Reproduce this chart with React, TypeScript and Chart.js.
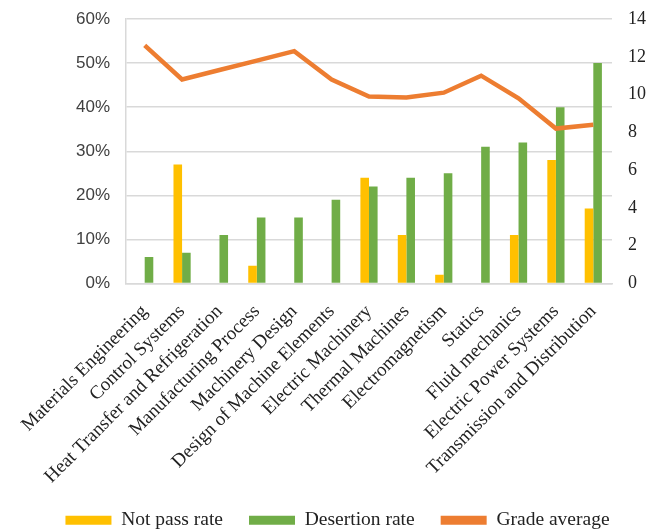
import React, { useEffect, useRef } from "react";
import { Chart, registerables } from "chart.js";

Chart.register(...registerables);

const categories = [
  "Materials Engineering",
  "Control Systems",
  "Heat Transfer and Refrigeration",
  "Manufacturing Process",
  "Machinery Design",
  "Design of Machine Elements",
  "Electric Machinery",
  "Thermal Machines",
  "Electromagnetism",
  "Statics",
  "Fluid mechanics",
  "Electric Power Systems",
  "Transmission and Distribution",
];

const notPassRate = [0, 27, 0, 4, 0, 0, 24, 11, 2, 0, 11, 28, 17];
const desertionRate = [6, 7, 11, 15, 15, 19, 22, 24, 25, 31, 32, 40, 50];
const gradeAverage = [12.6, 10.8, 11.3, 11.8, 12.3, 10.8, 9.9, 9.85, 10.1, 11.0, 9.8, 8.2, 8.4];

const leftTicks = [0, 10, 20, 30, 40, 50, 60];
const rightTicks = [0, 2, 4, 6, 8, 10, 12, 14];

const W = 661;
const H = 531;

const layoutTweak = {
  id: "layoutTweak",
  afterLayout(chart: any) {
    const lg = chart.legend;
    if (lg) {
      lg.top += 9;
      lg.bottom += 9;
      lg.left += 7;
      lg.right += 7;
    }
    const x = chart.scales.x;
    if (x) x.bottom += 40;
  },
};

export default function App() {
  const ref = useRef<HTMLCanvasElement | null>(null);

  useEffect(() => {
    document.body.style.margin = "0";
    if (!ref.current) return;
    const gridColor = "#d9d9d9";
    const serif = "'Liberation Serif', 'Times New Roman', serif";
    const noPad = (s: any) => {
      s.paddingTop = 0;
      s.paddingBottom = 0;
    };
    const chart = new Chart(ref.current, {
      type: "bar",
      data: {
        labels: categories,
        datasets: [
          {
            type: "bar",
            label: "Not pass rate",
            data: notPassRate,
            backgroundColor: "#FFC000",
            borderWidth: 0,
            yAxisID: "y",
            order: 1,
            barPercentage: 1,
            categoryPercentage: 0.46,
          },
          {
            type: "bar",
            label: "Desertion rate",
            data: desertionRate,
            backgroundColor: "#70AD47",
            borderWidth: 0,
            yAxisID: "y",
            order: 1,
            barPercentage: 1,
            categoryPercentage: 0.46,
          },
          {
            type: "line",
            label: "Grade average",
            data: gradeAverage,
            borderColor: "#ED7D31",
            backgroundColor: "#ED7D31",
            borderWidth: 4.5,
            pointRadius: 0,
            tension: 0,
            yAxisID: "y1",
            order: 0,
          } as any,
        ],
      },
      plugins: [layoutTweak],
      options: {
        responsive: false,
        animation: false,
        layout: { padding: { top: 19, bottom: 0, left: 0, right: 0 } },
        plugins: {
          tooltip: { enabled: false },
          legend: {
            position: "bottom",
            labels: {
              boxWidth: 46,
              boxHeight: 9,
              padding: 26,
              color: "#222",
              font: { family: serif, size: 19.5 },
              sort: (a: any, b: any) => a.datasetIndex - b.datasetIndex,
              generateLabels: (c: any) => {
                const items = Chart.defaults.plugins.legend.labels.generateLabels(c);
                return items.map((it: any) => ({ ...it, lineWidth: 0, strokeStyle: "transparent" }));
              },
            },
          },
        },
        scales: {
          x: {
            grid: { display: false, drawTicks: false },
            border: { display: true, color: gridColor, width: 1.5 },
            ticks: {
              autoSkip: false,
              maxRotation: 45,
              minRotation: 45,
              padding: 17,
              color: "#222",
              font: { family: serif, size: 19 },
            },
            afterFit: (s: any) => {
              s.height = 192;
            },
          },
          y: {
            position: "left",
            min: 0,
            max: 60,
            afterBuildTicks: (s: any) => {
              s.ticks = leftTicks.map((v) => ({ value: v }));
            },
            grid: { color: gridColor, lineWidth: 1.5, drawTicks: false },
            border: { display: true, color: gridColor, width: 1.5 },
            ticks: {
              padding: 16,
              color: "#404040",
              font: { family: "'Liberation Sans', Arial, sans-serif", size: 17 },
              callback: (v: any) => v + "%",
            },
            afterFit: (s: any) => {
              s.width = 126;
              noPad(s);
            },
          },
          y1: {
            position: "right",
            min: 0,
            max: 14,
            afterBuildTicks: (s: any) => {
              s.ticks = rightTicks.map((v) => ({ value: v }));
            },
            grid: { display: false, drawTicks: false },
            border: { display: false },
            ticks: {
              padding: 16,
              color: "#222",
              font: { family: serif, size: 18 },
            },
            afterFit: (s: any) => {
              s.width = 49;
              noPad(s);
            },
          },
        },
      },
    });
    return () => chart.destroy();
  }, []);

  return (
    <div style={{ width: W, height: H, background: "#fff" }}>
      <canvas ref={ref} width={W} height={H} style={{ display: "block" }} />
    </div>
  );
}
